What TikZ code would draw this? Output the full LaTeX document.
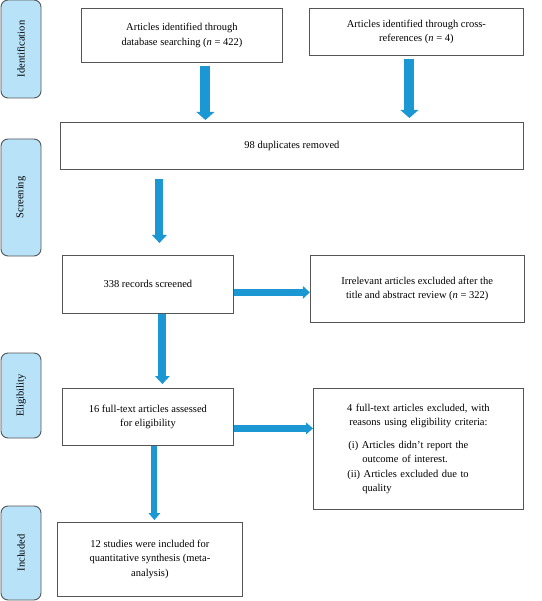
\documentclass[tikz,border=0pt]{standalone}
\usepackage{fontspec}
\setmainfont{Liberation Serif}
\usetikzlibrary{arrows.meta,positioning}
\definecolor{flowblue}{RGB}{27,152,212}
\definecolor{stagefill}{RGB}{184,226,248}
\definecolor{edgegray}{RGB}{85,85,85}

\begin{document}
\begin{tikzpicture}[x=1pt, y=-1pt,
    box/.style={rectangle, draw=edgegray, fill=white, line width=0.8pt,
                anchor=north west, align=center, inner sep=2pt,
                font=\fontsize{10.5}{14.5}\selectfont},
    stage/.style={rectangle, rounded corners=7pt, draw=edgegray, fill=stagefill,
                  line width=0.9pt, rotate=90, minimum height=40pt,
                  font=\fontsize{10.5}{14.5}\selectfont},
    flow/.style={draw=flowblue, line width=8pt,
                 -{Triangle[width=15pt, length=8pt, line width=0pt]}}
]
    \useasboundingbox (0,0) rectangle (541,601);

    % Stage labels on the left
    \node[stage, minimum width=98pt] (ident) at (21,49) {Identification};
    \node[stage, minimum width=117pt] (screen) at (21,197.5) {Screening};
    \node[stage, minimum width=85pt] (elig) at (21,395.5) {Eligibility};
    \node[stage, minimum width=94pt] (incl) at (21,553) {Included};

    % Identification
    \node[box, minimum width=201pt, minimum height=54pt] (dbsearch) at (81,8)
        {Articles identified through\\database searching (\textit{n} = 422)};
    \node[box, minimum width=214pt, minimum height=47pt] (crossref) at (309,8)
        {Articles identified through cross-\\references (\textit{n} = 4)};

    % Screening
    \node[box, minimum width=463pt, minimum height=47pt] (dupl) at (60,122)
        {98 duplicates removed};
    \node[box, minimum width=171pt, minimum height=58pt] (screened) at (62,255)
        {338 records screened};
    \node[box, minimum width=214pt, minimum height=67pt,
          right=76pt of screened.north east, anchor=north west] (irrelev)
        {Irrelevant articles excluded after the\\title and abstract review (\textit{n} = 322)};

    % Eligibility
    \node[box, minimum width=171pt, minimum height=57pt] (fulltext) at (62,388)
        {16 full-text articles assessed\\for eligibility};
    \node[box, minimum width=210pt, minimum height=121pt, inner sep=0pt,
          text width=210pt, align=left] (exclud) at (313,388)
        {\makebox[210pt][c]{4 full-text articles excluded, with}\\
         \makebox[210pt][c]{reasons using eligibility criteria:}\\[8pt]
         \hspace*{35pt}(i) Articles didn't report the\\
         \hspace*{49pt}outcome of interest.\\
         \hspace*{34pt}(ii) Articles excluded due to\\
         \hspace*{49pt}quality};

    % Included
    \node[box, minimum width=185pt, minimum height=74pt] (included) at (57,522)
        {12 studies were included for\\quantitative synthesis (meta-\\analysis)};

    % Flow arrows
    \draw[flow, line width=10pt, -{Triangle[width=18pt, length=8pt, line width=0pt]}]
        ([xshift=23.5pt, yshift=-3pt]dbsearch.south) -- ([xshift=23.5pt, yshift=2pt]dbsearch.south |- dupl.north);
    \draw[flow, line width=10pt, -{Triangle[width=18pt, length=8pt, line width=0pt]}]
        ([xshift=-7pt, yshift=-3pt]crossref.south) -- ([xshift=-7pt, yshift=4pt]crossref.south |- dupl.north);
    \draw[flow] ([xshift=11.5pt]screened.north |- dupl.south) ++(0,9)
        -- ([xshift=11.5pt, yshift=12pt]screened.north);
    \draw[flow, line width=7pt, -{Triangle[width=13pt, length=7pt, line width=0pt]}]
        ([yshift=-8pt]screened.east) -- ([yshift=-8pt]screened.east -| irrelev.west);
    \draw[flow] ([xshift=14.5pt]screened.south) -- ([xshift=14.5pt, yshift=4pt]fulltext.north);
    \draw[flow, line width=7pt, -{Triangle[width=12pt, length=7pt, line width=0pt]}]
        ([yshift=-11.5pt]fulltext.east) -- ([yshift=-11.5pt]fulltext.east -| exclud.west);
    \draw[flow, line width=6pt, -{Triangle[width=12pt, length=7pt, line width=0pt]}]
        ([xshift=6.5pt]fulltext.south) -- ([xshift=6.5pt, yshift=2pt]fulltext.south |- included.north);
\end{tikzpicture}
\end{document}
